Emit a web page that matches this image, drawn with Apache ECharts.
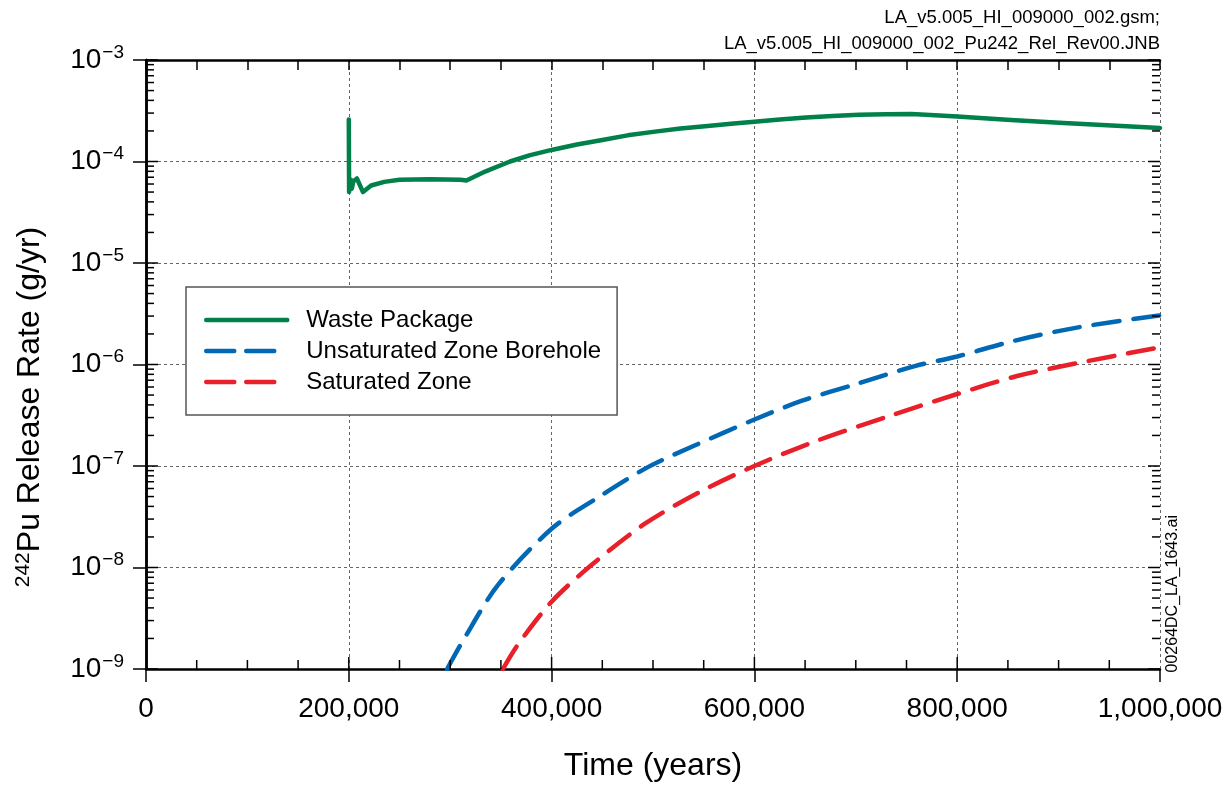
<!DOCTYPE html>
<html><head><meta charset="utf-8">
<script src="https://cdn.jsdelivr.net/npm/echarts@6/dist/echarts.min.js"></script>
<style>html,body{margin:0;padding:0;background:#fff;overflow:hidden}#c{width:1230px;height:787px}</style>
</head><body><div id="c"></div>
<script>
// ---- data ----
const xTickLabels = ['0','200,000','400,000','600,000','800,000','1,000,000'];
const seriesNames = ['Waste Package','Unsaturated Zone Borehole','Saturated Zone'];
const wasteT = [200000,200300,202000,203000,204500,208000,214000,222000,235000,250000,280000,310000,316000,335000,359000,378000,400000,425000,450000,475000,502000,527000,554000,577000,600000,625000,651000,677000,703000,730000,755000,778000,800000,853000,905000,1000000];
const wasteR = [2.6e-4,5.0e-5,6.6e-5,5.4e-5,6.4e-5,6.8e-5,5.0e-5,5.8e-5,6.3e-5,6.6e-5,6.7e-5,6.6e-5,6.5e-5,8.0e-5,1.0e-4,1.15e-4,1.30e-4,1.47e-4,1.63e-4,1.81e-4,1.97e-4,2.11e-4,2.24e-4,2.36e-4,2.47e-4,2.59e-4,2.71e-4,2.80e-4,2.88e-4,2.92e-4,2.94e-4,2.86e-4,2.77e-4,2.57e-4,2.39e-4,2.14e-4];
const uzT = [297000,313000,347000,400000,444000,495000,541000,600000,647000,700000,759000,800000,856000,918000,1000000];
const uzR = [1.0e-9,1.93e-9,6.7e-9,2.41e-8,4.77e-8,9.75e-8,1.59e-7,2.87e-7,4.40e-7,6.41e-7,9.7e-7,1.20e-6,1.71e-6,2.31e-6,3.05e-6];
const szT = [352000,366600,400000,439000,492000,546000,600000,662000,734000,800000,860000,918000,1000000];
const szR = [1.0e-9,1.73e-9,4.6e-9,1.05e-8,2.70e-8,5.54e-8,1.0e-7,1.78e-7,3.13e-7,5.12e-7,7.74e-7,1.03e-6,1.48e-6];
const topNote = ['LA_v5.005_HI_009000_002.gsm;','LA_v5.005_HI_009000_002_Pu242_Rel_Rev00.JNB'];
const sideNote = '00264DC_LA_1643.ai';
const yTitle = ['242', 'Pu Release Rate (g/yr)'];
const xTitle = 'Time (years)';

// ---- axis scaffolding (tick positions) ----
const yTickVals = [];
for (let e = -9; e <= -3; e++) {
  yTickVals.push([0, Math.pow(10, e), 1]);
  if (e < -3) for (let m = 2; m <= 9; m++) yTickVals.push([0, m * Math.pow(10, e), 0]);
}
const xTickVals = [];
for (let t = 50000; t < 1000000; t += 50000) xTickVals.push([t, 1e-9, t % 200000 === 0 ? 1 : 0]);

const zip = (a, b) => a.map((v, i) => [v, b[i]]);
const FONT = '"Liberation Sans", Arial, Helvetica, sans-serif';
const chart = echarts.init(document.getElementById('c'), null, {renderer: 'canvas', width: 1230, height: 787});
const legendDash = {type: [28, 12, 28, 40]};

chart.setOption({
  animation: false,
  backgroundColor: '#fff',
  textStyle: {fontFamily: FONT},
  grid: {left: 146, right: 70, top: 60, bottom: 116, containLabel: false},
  legend: {
    orient: 'vertical', left: 186, top: 287,
    data: [{name: seriesNames[0]}, {name: seriesNames[1], lineStyle: legendDash}, {name: seriesNames[2], lineStyle: legendDash}],
    itemWidth: 81, itemHeight: 14, itemGap: 7,
    padding: [21, 16, 21, 18],
    backgroundColor: '#fff', borderColor: '#555', borderWidth: 1.5,
    itemStyle: {opacity: 0},
    lineStyle: {width: 4.5},
    textStyle: {fontFamily: FONT, fontSize: 24, color: '#000', lineHeight: 24, padding: [0, 0, 0, 14]}
  },
  xAxis: [{
    type: 'value', min: 0, max: 1000000, interval: 200000, position: 'bottom',
    name: xTitle, nameLocation: 'middle', nameGap: 81,
    nameTextStyle: {fontFamily: FONT, fontSize: 32, color: '#000'},
    axisLine: {show: true, lineStyle: {color: '#000', width: 2.5}},
    axisTick: {show: true, inside: false, length: 13, lineStyle: {color: '#000', width: 1.5}},
    axisLabel: {margin: 26, fontFamily: FONT, fontSize: 28, color: '#000',
      formatter: v => xTickLabels[Math.round(v / 200000)]},
    splitLine: {show: true, lineStyle: {color: '#666', width: 1, type: [3, 3]}}
  }, {
    type: 'value', min: 0, max: 1000000, interval: 50000, position: 'top',
    axisLine: {show: true, lineStyle: {color: '#000', width: 2.5}},
    axisTick: {show: true, inside: true, length: 10, lineStyle: {color: '#000', width: 1.5}},
    axisLabel: {show: false}, splitLine: {show: false}
  }],
  yAxis: [{
    type: 'log', logBase: 10, min: 1e-9, max: 1e-3, position: 'left',
    axisLine: {show: true, lineStyle: {color: '#000', width: 2.5}},
    axisTick: {show: true, inside: false, length: 13, lineStyle: {color: '#000', width: 1.5}},
    axisLabel: {margin: 22, color: '#000',
      formatter: v => '{b|10}{s|\u2212' + Math.abs(Math.round(Math.log10(v))) + '}',
      rich: {
        b: {fontFamily: FONT, fontSize: 28, color: '#000'},
        s: {fontFamily: FONT, fontSize: 19, color: '#000', padding: [0, 0, 15, 1]}
      }},
    splitLine: {show: true, lineStyle: {color: '#666', width: 1, type: [3, 3]}}
  }, {
    type: 'log', logBase: 10, min: 1e-9, max: 1e-3, position: 'right',
    axisLine: {show: true, lineStyle: {color: '#000', width: 2.5}},
    axisTick: {show: false}, axisLabel: {show: false}, splitLine: {show: false}
  }],
  series: [{
    name: seriesNames[0], type: 'line', data: zip(wasteT, wasteR), showSymbol: false, symbol: 'none',
    lineStyle: {color: '#00804a', width: 4.5, cap: 'round', join: 'round'}, itemStyle: {color: '#00804a'}, z: 5
  }, {
    name: seriesNames[1], type: 'line', data: zip(uzT, uzR), showSymbol: false, symbol: 'none', smooth: 0.3,
    lineStyle: {color: '#0068b4', width: 4.5, type: [26, 14], cap: 'round'}, itemStyle: {color: '#0068b4'}, z: 4
  }, {
    name: seriesNames[2], type: 'line', data: zip(szT, szR), showSymbol: false, symbol: 'none', smooth: 0.3,
    lineStyle: {color: '#e8202a', width: 4.5, type: [26, 14], cap: 'round'}, itemStyle: {color: '#e8202a'}, z: 4
  }, {
    type: 'custom', silent: true, clip: false, data: yTickVals, z: 10,
    renderItem: (p, api) => {
      const v = api.value(1), major = api.value(2) === 1, len = major ? 12 : 8;
      const l = api.coord([0, v]), r = api.coord([1000000, v]);
      const st = {stroke: '#000', lineWidth: 1.5};
      return {type: 'group', children: [
        {type: 'line', shape: {x1: l[0], y1: l[1], x2: l[0] + len, y2: l[1]}, style: st},
        {type: 'line', shape: {x1: r[0], y1: r[1], x2: r[0] - len, y2: r[1]}, style: st}
      ]};
    }
  }, {
    type: 'custom', silent: true, clip: false, data: xTickVals, z: 10,
    renderItem: (p, api) => {
      const major = api.value(2) === 1, len = major ? 12 : 9;
      const b = api.coord([api.value(0), 1e-9]);
      return {type: 'line', shape: {x1: b[0], y1: b[1], x2: b[0], y2: b[1] - len},
        style: {stroke: '#000', lineWidth: 1.5}};
    }
  }],
  graphic: [
    {type: 'text', right: 70, top: 8, style: {text: topNote[0], fontFamily: FONT, fontSize: 18.5, fill: '#000', textAlign: 'right'}},
    {type: 'text', right: 70, top: 34, style: {text: topNote[1], fontFamily: FONT, fontSize: 18.5, fill: '#000', textAlign: 'right'}},
    {type: 'text', left: 1165, top: 515, rotation: Math.PI / 2,
      style: {text: sideNote, fontFamily: FONT, fontSize: 16, fill: '#000'}},
    {type: 'text', x: 30, y: 407, rotation: Math.PI / 2,
      style: {text: '{sup|' + yTitle[0] + '}{t|' + yTitle[1] + '}', align: 'center', verticalAlign: 'middle',
        rich: {
          sup: {fontFamily: FONT, fontSize: 21, fill: '#000', padding: [0, 0, 14, 0]},
          t: {fontFamily: FONT, fontSize: 32, fill: '#000'}
        }}}
  ]
});
</script></body></html>
